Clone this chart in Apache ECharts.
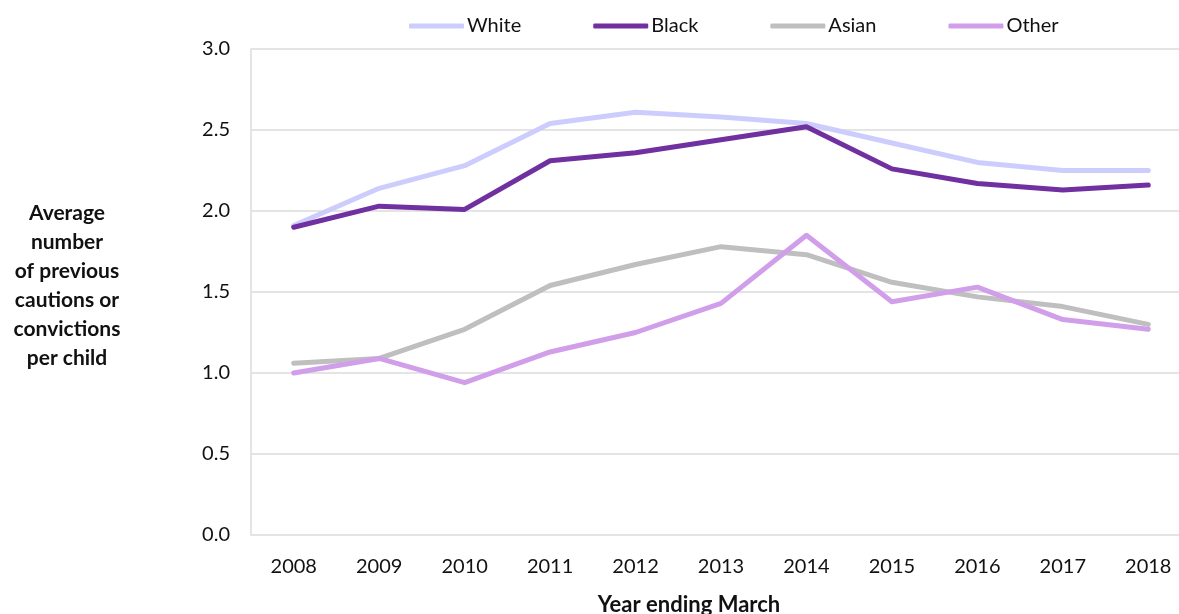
<!DOCTYPE html>
<html>
<head>
<meta charset="utf-8">
<script src="https://cdn.jsdelivr.net/npm/echarts@6/dist/echarts.min.js"></script>
<style>
  html, body { margin: 0; padding: 0; background: #fff; }
  #chart { width: 1179px; height: 614px; }
</style>
</head>
<body>
<div id="chart"></div>
<script>
// years on the x axis
var years = ['2008', '2009', '2010', '2011', '2012', '2013', '2014', '2015', '2016', '2017', '2018'];
// average number of previous cautions or convictions per child
var white = [1.91, 2.14, 2.28, 2.54, 2.61, 2.58, 2.54, 2.42, 2.30, 2.25, 2.25];
var black = [1.90, 2.03, 2.01, 2.31, 2.36, 2.44, 2.52, 2.26, 2.17, 2.13, 2.16];
var asian = [1.06, 1.09, 1.27, 1.54, 1.67, 1.78, 1.73, 1.56, 1.47, 1.41, 1.30];
var other = [1.00, 1.09, 0.94, 1.13, 1.25, 1.43, 1.85, 1.44, 1.53, 1.33, 1.27];

var font = 'Lato';
var gridColor = '#e4e4e4';

function line (name, data, color) {
  return {
    name: name,
    type: 'line',
    data: data,
    symbol: 'none',
    lineStyle: { width: 5, color: color, cap: 'round', join: 'round' },
    itemStyle: { color: color }
  };
}

var option = {
  animation: false,
  textStyle: { fontFamily: font },
  legend: {
    top: 11,
    left: 404,
    icon: 'roundRect',
    itemWidth: 55,
    itemHeight: 5,
    itemGap: 72,
    textStyle: { fontSize: 20, color: '#111', padding: [0, 0, 0, -2] },
    data: ['White', 'Black', 'Asian', 'Other']
  },
  grid: {
    left: 251,
    top: 49,
    width: 940,
    height: 486,
    outerBoundsMode: 'none'
  },
  xAxis: {
    type: 'category',
    data: years,
    boundaryGap: true,
    name: 'Year ending March',
    nameLocation: 'middle',
    nameGap: 59,
    nameTextStyle: { fontSize: 22, fontWeight: 'bold', color: '#111', padding: [0, 64, 0, 0] },
    axisLine: { lineStyle: { color: gridColor, width: 2 } },
    axisTick: { show: false },
    axisLabel: { fontSize: 20, color: '#111', margin: 22 }
  },
  yAxis: {
    type: 'value',
    min: 0,
    max: 3,
    interval: 0.5,
    // the last empty rich line only lifts the block a little
    name: 'Average\nnumber\nof previous\ncautions or\nconvictions\nper child\n{s| }',
    nameLocation: 'middle',
    nameRotate: 0,
    nameGap: 184,
    nameTextStyle: {
      fontSize: 21, fontWeight: 'bold', color: '#111',
      align: 'center', lineHeight: 29,
      rich: { s: { fontSize: 1, lineHeight: 12 } }
    },
    axisLine: { show: true, lineStyle: { color: gridColor, width: 2 } },
    axisTick: { show: false },
    splitLine: { lineStyle: { color: gridColor, width: 2 } },
    axisLabel: {
      fontSize: 20, color: '#111', margin: 21,
      formatter: function (v) { return v.toFixed(1); }
    }
  },
  series: [
    line('White', white, '#cdcdfd'),
    line('Black', black, '#7030a0'),
    line('Asian', asian, '#bfbfbf'),
    line('Other', other, '#d19eea')
  ]
};

var chart = echarts.init(document.getElementById('chart'));
chart.setOption(option);
</script>
</body>
</html>
